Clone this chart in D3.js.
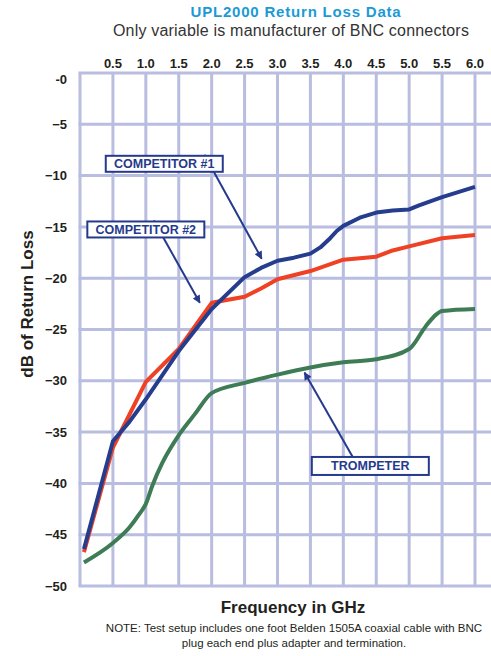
<!DOCTYPE html>
<html>
<head>
<meta charset="utf-8">
<script src="https://cdn.jsdelivr.net/npm/d3@7"></script>
<style>
  html, body { margin: 0; padding: 0; background: #fff; }
  svg { display: block; font-family: "Liberation Sans", Arial, sans-serif; }
</style>
</head>
<body>
<div id="chart"></div>
<script>
// Return loss curves
const COMP1_GHZ = [0.06, 0.5, 0.75, 1.0, 1.5, 2.0, 2.5, 2.75, 3.0, 3.25, 3.5, 3.65, 3.8, 3.9, 4.0, 4.25, 4.5, 4.75, 5.0, 5.15, 5.5, 6.0];
const COMP1_DB  = [-46.4, -35.9, -34.0, -31.8, -27.1, -23.0, -19.9, -19.0, -18.3, -18.0, -17.6, -17.0, -16.1, -15.4, -14.9, -14.1, -13.6, -13.4, -13.3, -12.9, -12.1, -11.1];

const COMP2_GHZ = [0.06, 0.5, 1.0, 1.5, 2.0, 2.5, 2.75, 3.0, 3.5, 4.0, 4.5, 4.75, 5.0, 5.5, 6.0];
const COMP2_DB  = [-46.7, -36.5, -30.1, -26.9, -22.4, -21.8, -21.0, -20.1, -19.3, -18.2, -17.9, -17.3, -16.9, -16.1, -15.8];

const TROMP_GHZ = [0.06, 0.5, 0.75, 0.9, 1.0, 1.1, 1.25, 1.5, 1.75, 2.0, 2.5, 3.0, 3.5, 4.0, 4.5, 5.0, 5.25, 5.4, 5.5, 6.0];
const TROMP_DB  = [-47.7, -45.8, -44.3, -43.0, -42.0, -40.2, -38.0, -35.3, -33.2, -31.2, -30.2, -29.4, -28.7, -28.2, -27.9, -26.9, -24.7, -23.6, -23.2, -23.0];

const X_TICKS = [0.5, 1.0, 1.5, 2.0, 2.5, 3.0, 3.5, 4.0, 4.5, 5.0, 5.5, 6.0];
const Y_TICKS = [0, -5, -10, -15, -20, -25, -30, -35, -40, -45, -50];

// callout boxes: label, box centre (GHz, dB), arrow start x (GHz), arrow tip (GHz, dB)
const CALLOUT_LABELS = ["COMPETITOR #1", "COMPETITOR #2", "TROMPETER"];
const CALLOUT_BOX    = [[1.28, -8.85], [1.0, -15.25], [4.41, -38.3]];
const CALLOUT_FROM   = [1.89, 1.12, 4.29];
const CALLOUT_TIP    = [[2.76, -18.1], [1.82, -22.4], [3.41, -29.2]];

(function() {
    const COLORS = {
        grid: "#b9bddf",
        comp1: "#263d8d",
        comp2: "#ef4124",
        tromp: "#3e7c55",
        title: "#1b9ad6",
        ink: "#231f20",
        callout: "#263a8c"
    };

    const W = 491, H = 656;

    const svg = d3.select("#chart").append("svg")
        .attr("width", W)
        .attr("height", H)
        .attr("viewBox", `0 0 ${W} ${H}`);

    svg.append("rect").attr("width", W).attr("height", H).attr("fill", "#fff");

    const x = d3.scaleLinear().domain([0, 6]).range([80, 475]);
    const y = d3.scaleLinear().domain([-50, 0]).range([586, 73]);

    // GRID
    const grid = svg.append("g").attr("stroke", COLORS.grid).attr("stroke-width", 3);

    grid.selectAll("line.v")
        .data([0].concat(X_TICKS, [6.5]))
        .join("line")
        .attr("class", "v")
        .attr("x1", d => x(d)).attr("x2", d => x(d))
        .attr("y1", y(0)).attr("y2", y(-50));

    grid.selectAll("line.h")
        .data(Y_TICKS)
        .join("line")
        .attr("class", "h")
        .attr("x1", x(0) - 1.5).attr("x2", W)
        .attr("y1", d => y(d)).attr("y2", d => y(d));

    // X-AXIS (top)
    svg.append("g")
        .selectAll("text")
        .data(X_TICKS)
        .join("text")
        .attr("x", d => x(d))
        .attr("y", 68)
        .attr("text-anchor", "middle")
        .attr("font-size", 13)
        .attr("font-weight", "bold")
        .attr("fill", COLORS.ink)
        .text(d => d3.format(".1f")(d));

    // Y-AXIS
    svg.append("g")
        .selectAll("text")
        .data(Y_TICKS)
        .join("text")
        .attr("x", 67)
        .attr("y", d => y(d) + (d === 0 ? 6 : 0))
        .attr("dy", "0.36em")
        .attr("text-anchor", "end")
        .attr("font-size", 13)
        .attr("font-weight", "bold")
        .attr("fill", COLORS.ink)
        .text(d => d === 0 ? "-0" : d3.format("d")(d));

    // CURVES (competitors are drawn as straight segments, Trompeter smoothed)
    const lineStraight = d3.line()
        .x(d => x(d[0]))
        .y(d => y(d[1]));

    const lineSmooth = d3.line()
        .x(d => x(d[0]))
        .y(d => y(d[1]))
        .curve(d3.curveMonotoneX);

    const series = [
        { ghz: TROMP_GHZ, db: TROMP_DB, color: COLORS.tromp, gen: lineSmooth },
        { ghz: COMP2_GHZ, db: COMP2_DB, color: COLORS.comp2, gen: lineStraight },
        { ghz: COMP1_GHZ, db: COMP1_DB, color: COLORS.comp1, gen: lineStraight }
    ];

    svg.append("g")
        .selectAll("path")
        .data(series)
        .join("path")
        .attr("fill", "none")
        .attr("stroke", d => d.color)
        .attr("stroke-width", 4)
        .attr("stroke-linejoin", "round")
        .attr("d", d => d.gen(d3.zip(d.ghz, d.db)));

    // CALLOUTS
    svg.append("defs").append("marker")
        .attr("id", "head")
        .attr("viewBox", "0 0 10 10")
        .attr("refX", 9).attr("refY", 5)
        .attr("markerWidth", 11).attr("markerHeight", 8)
        .attr("markerUnits", "userSpaceOnUse")
        .attr("orient", "auto")
        .append("path")
        .attr("d", "M0,0 L10,5 L0,10 Z")
        .attr("fill", COLORS.callout);

    const boxW = 117, boxH = 16;
    const callouts = svg.append("g")
        .selectAll("g")
        .data(CALLOUT_LABELS.map((label, i) => ({
            label, box: CALLOUT_BOX[i], from: CALLOUT_FROM[i], tip: CALLOUT_TIP[i]
        })))
        .join("g");

    callouts.append("line")
        .attr("x1", d => x(d.from))
        .attr("y1", d => d.tip[1] > d.box[1] ? y(d.box[1]) + boxH / 2 : y(d.box[1]) - boxH / 2 - 1)
        .attr("x2", d => x(d.tip[0]))
        .attr("y2", d => y(d.tip[1]))
        .attr("stroke", COLORS.callout)
        .attr("stroke-width", 2)
        .attr("marker-end", "url(#head)");

    callouts.append("rect")
        .attr("x", d => x(d.box[0]) - boxW / 2)
        .attr("y", d => y(d.box[1]) - boxH / 2 - (d.label === "TROMPETER" ? 1 : 0))
        .attr("width", boxW)
        .attr("height", d => d.label === "TROMPETER" ? boxH + 2 : boxH)
        .attr("fill", "#fff")
        .attr("stroke", COLORS.callout)
        .attr("stroke-width", 2);

    callouts.append("text")
        .attr("x", d => x(d.box[0]))
        .attr("y", d => y(d.box[1]))
        .attr("dy", "0.36em")
        .attr("text-anchor", "middle")
        .attr("font-size", 12.5)
        .attr("font-weight", "bold")
        .attr("fill", COLORS.callout)
        .text(d => d.label);

    // TITLES
    svg.append("text")
        .attr("x", 296).attr("y", 17)
        .attr("text-anchor", "middle")
        .attr("font-size", 15)
        .attr("font-weight", "bold")
        .attr("letter-spacing", 0.8)
        .attr("fill", COLORS.title)
        .text("UPL2000 Return Loss Data");

    svg.append("text")
        .attr("x", 291).attr("y", 36)
        .attr("text-anchor", "middle")
        .attr("font-size", 16)
        .attr("letter-spacing", 0.2)
        .attr("fill", "#333")
        .text("Only variable is manufacturer of BNC connectors");

    svg.append("text")
        .attr("transform", "translate(33,304) rotate(-90)")
        .attr("text-anchor", "middle")
        .attr("font-size", 17)
        .attr("font-weight", "bold")
        .attr("fill", COLORS.ink)
        .text("dB of Return Loss");

    svg.append("text")
        .attr("x", 293).attr("y", 613)
        .attr("text-anchor", "middle")
        .attr("font-size", 17)
        .attr("font-weight", "bold")
        .attr("fill", COLORS.ink)
        .text("Frequency in GHz");

    const note = svg.append("text")
        .attr("text-anchor", "middle")
        .attr("font-size", 11.5)
        .attr("fill", COLORS.ink);
    note.append("tspan").attr("x", 294).attr("y", 632)
        .text("NOTE: Test setup includes one foot Belden 1505A coaxial cable with BNC");
    note.append("tspan").attr("x", 294).attr("y", 647)
        .text("plug each end plus adapter and termination.");
})();
</script>
</body>
</html>
